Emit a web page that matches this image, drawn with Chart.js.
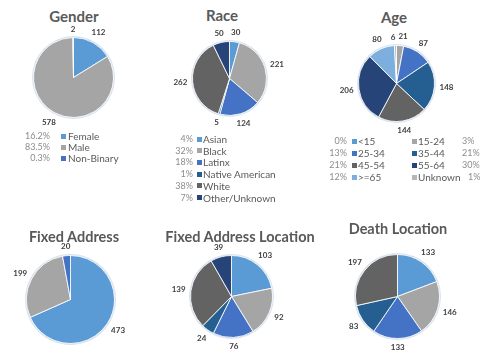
<!DOCTYPE html>
<html>
<head>
<meta charset="utf-8">
<script src="https://cdn.jsdelivr.net/npm/chart.js@4.4.1/dist/chart.umd.min.js"></script>
<style>
  body { margin: 0; width: 485px; height: 360px; overflow: hidden; background: #fff; position: relative; font-family: Lato, "Open Sans", sans-serif; }
  .title { position: absolute; transform: translate(-50%, -50%); font-weight: bold; color: #595959; white-space: nowrap; font-size: 15px; }
  .pie { position: absolute; }
  .pct, .lbl { position: absolute; white-space: nowrap; line-height: 12px; height: 12px; }
  .pct { font-size: 9px; color: #8c8c8c; }
  .lbl { font-size: 10px; color: #595959; }
  .sq { position: absolute; width: 5px; height: 5px; }
</style>
</head>
<body>
<script>
// data
const genderLabels = ["Female", "Male", "Non-Binary"]
const genderValues = [112, 578, 2]

const raceLabels = ["Asian", "Black", "Latinx", "Native American", "White", "Other/Unknown"]
const raceValues = [30, 221, 124, 5, 262, 50]

const ageLabels = ["<15", "15-24", "25-34", "35-44", "45-54", "55-64", ">=65", "Unknown"]
const ageValues = [0, 21, 87, 148, 144, 206, 80, 6]

const fixedAddressValues = [473, 199, 20]
const fixedLocationValues = [103, 92, 76, 24, 139, 39]
const deathLocationValues = [133, 146, 133, 83, 197]

const palette = ["#5b9bd5", "#a5a5a5", "#4472c4", "#255e91", "#636363", "#264478", "#7cafdd", "#b7b7b7"]

const PAD = 26

// value labels just outside each slice
const outsideLabels = {
  id: "outsideLabels",
  beforeDatasetsDraw(chart) {
    const arc = chart.getDatasetMeta(0).data[0]
    if (!arc) return
    const { ctx } = chart
    ctx.save()
    ctx.beginPath()
    ctx.arc(arc.x, arc.y, arc.outerRadius + 1.5, 0, Math.PI * 2)
    ctx.fillStyle = "#d9e3ef"
    ctx.fill()
    ctx.restore()
  },
  afterDatasetsDraw(chart) {
    const { ctx } = chart
    const values = chart.data.datasets[0].data
    ctx.save()
    ctx.font = "bold 8px Lato"
    ctx.fillStyle = "#404040"
    ctx.textAlign = "center"
    ctx.textBaseline = "middle"
    const spots = []
    chart.getDatasetMeta(0).data.forEach((a, i) => {
      if (!values[i]) return
      const mid = (a.startAngle + a.endAngle) / 2
      const text = String(values[i])
      const w = ctx.measureText(text).width
      const cos = Math.cos(mid), sin = Math.sin(mid)
      const d = a.outerRadius + 5 + Math.abs(cos) * w / 2 + Math.abs(sin) * 3.5
      spots.push({ text, w, x: a.x + cos * d, y: a.y + sin * d })
    })
    // push neighbours apart when they collide
    for (let k = 0; k < spots.length; k++) {
      const p = spots[k], q = spots[(k + 1) % spots.length]
      if (p === q) continue
      const need = (p.w + q.w) / 2 + 3
      if (Math.abs(p.y - q.y) < 9 && Math.abs(p.x - q.x) < need) {
        const shift = (need - Math.abs(p.x - q.x)) / 2
        if (p.x < q.x) { p.x -= shift; q.x += shift } else { p.x += shift; q.x -= shift }
      }
    }
    spots.forEach(s => ctx.fillText(s.text, s.x, s.y))
    ctx.restore()
  }
}

function addTitle(text, x, y, size) {
  const el = document.createElement("div")
  el.className = "title"
  el.textContent = text
  el.style.left = x + "px"
  el.style.top = y + "px"
  if (size) el.style.fontSize = size + "px"
  document.body.appendChild(el)
}

function addPie(values, cx, cy, r) {
  const size = 2 * (r + PAD) + 1
  const canvas = document.createElement("canvas")
  canvas.className = "pie"
  canvas.width = size
  canvas.height = size
  canvas.style.left = (cx - size / 2) + "px"
  canvas.style.top = (cy - size / 2) + "px"
  document.body.appendChild(canvas)
  new Chart(canvas, {
    type: "pie",
    data: {
      datasets: [{
        data: values,
        backgroundColor: palette.slice(0, values.length),
        borderColor: "rgba(255,255,255,0.85)",
        borderWidth: 1
      }]
    },
    options: {
      responsive: false,
      animation: false,
      layout: { padding: PAD },
      plugins: { legend: { display: false }, tooltip: { enabled: false } }
    },
    plugins: [outsideLabels]
  })
}

function pctText(v, total, decimals) {
  return (v / total * 100).toFixed(decimals) + "%"
}

// one legend row: percent, colour square, label
function legendRow(pct, color, label, y, pctX, sqX, lblX, pctLeft) {
  const p = document.createElement("div")
  p.className = "pct"
  p.textContent = pct
  p.style.top = (y - 6) + "px"
  const s = document.createElement("div")
  s.className = "sq"
  s.style.background = color
  s.style.left = sqX + "px"
  s.style.top = (y - 2.5) + "px"
  const l = document.createElement("div")
  l.className = "lbl"
  l.textContent = label
  l.style.left = lblX + "px"
  l.style.top = (y - 6) + "px"
  document.body.append(p, s, l)
  if (pctLeft) p.style.left = Math.max(pctX, lblX + l.offsetWidth + 8) + "px"
  else p.style.right = (485 - pctX) + "px"
}

const sum = arr => arr.reduce((a, b) => a + b, 0)

// Gender
addTitle("Gender", 74, 16)
addPie(genderValues, 73, 77, 40)
genderLabels.forEach((lab, i) => {
  legendRow(pctText(genderValues[i], sum(genderValues), 1), palette[i], lab, 136 + i * 11, 50, 61, 68)
})

// Race
addTitle("Race", 222, 15)
addPie(raceValues, 229, 78, 37)
raceLabels.forEach((lab, i) => {
  legendRow(pctText(raceValues[i], sum(raceValues), 0), palette[i], lab, 139 + i * 11.7, 193, 197, 203)
})

// Age: two columns
addTitle("Age", 394, 17)
addPie(ageValues, 396, 83, 38)
ageLabels.forEach((lab, i) => {
  const row = Math.floor(i / 2)
  const y = 141 + row * 12
  const pct = pctText(ageValues[i], sum(ageValues), 0)
  if (i % 2 === 0) legendRow(pct, palette[i], lab, y, 347, 352, 358)
  else legendRow(pct, palette[i], lab, y, 462, 412, 418, true)
})

// bottom row
addTitle("Fixed Address", 74, 236, 14.5)
addPie(fixedAddressValues, 70, 299, 44)

addTitle("Fixed Address Location", 240, 236, 14.5)
addPie(fixedLocationValues, 231, 296, 41)

addTitle("Death Location", 398, 228, 14.5)
addPie(deathLocationValues, 397, 296, 42)
</script>
</body>
</html>
